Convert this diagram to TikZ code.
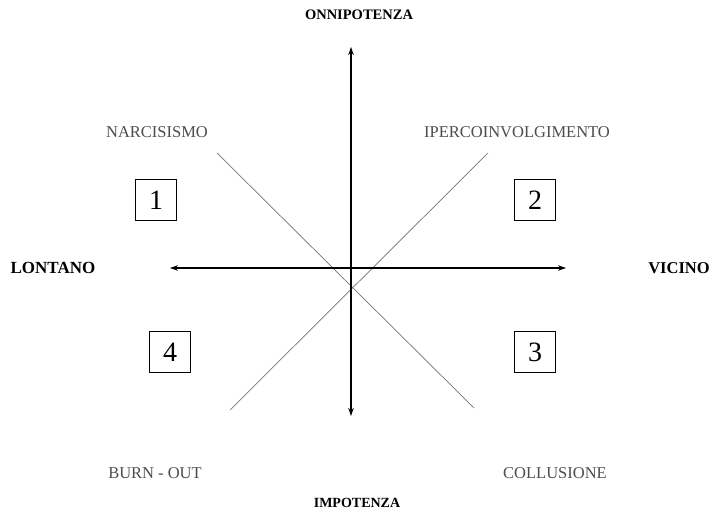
\documentclass[tikz,border=0pt]{standalone}
\usepackage{fontspec}
\setmainfont{Liberation Serif}
\usetikzlibrary{arrows.meta}
\begin{document}
\begin{tikzpicture}[x=1pt,y=-1pt,
  axis/.style={line width=1.4pt,{Stealth[length=8pt,width=5.5pt]}-{Stealth[length=8pt,width=5.5pt]}},
  diag/.style={line width=0.7pt,draw=black!55},
  numbox/.style={draw,line width=0.9pt,minimum width=41pt,minimum height=41pt,inner sep=0pt,font=\fontsize{28}{28}\selectfont},
  quad/.style={text=black!70,inner sep=0pt,font=\fontsize{16.5}{17}\selectfont},
  pole/.style={inner sep=0pt}]
\useasboundingbox (0,0) rectangle (713,513);
% axis end points
\coordinate (top) at (351,47);
\coordinate (bot) at (351,416);
\coordinate (lft) at (170,268);
\coordinate (rgt) at (566,268);
\coordinate (d1a) at (217,153);
\coordinate (d1b) at (474,408);
\coordinate (d2a) at (488,153);
\coordinate (d2b) at (230,410);
\draw[diag] (d1a) -- (d1b);
\draw[diag] (d2a) -- (d2b);
\draw[axis] (bot) -- (top);
\draw[axis,line width=1.1pt] (lft) -- (rgt);
% poles
\node[pole,font=\bfseries\fontsize{14.5}{15}\selectfont] (on) at (359,15) {ONNIPOTENZA};
\node[pole,font=\bfseries\fontsize{14}{15}\selectfont] (im) at (357,503) {IMPOTENZA};
\node[pole,font=\bfseries\fontsize{17}{17}\selectfont] (lo) at (53,268) {LONTANO};
\node[pole,font=\bfseries\fontsize{16.5}{17}\selectfont] (vi) at (679,268) {VICINO};
% quadrant labels
\node[quad] (na) at (157,132) {NARCISISMO};
\node[quad] (ip) at (517,132) {IPERCOINVOLGIMENTO};
\node[quad] (bu) at (155,473) {BURN - OUT};
\node[quad] (co) at (555,473) {COLLUSIONE};
% numbered boxes
\node[numbox] (b1) at (156,200) {1};
\node[numbox] (b2) at (535,200) {2};
\node[numbox] (b3) at (535,352) {3};
\node[numbox] (b4) at (170,352) {4};
\end{tikzpicture}
\end{document}
